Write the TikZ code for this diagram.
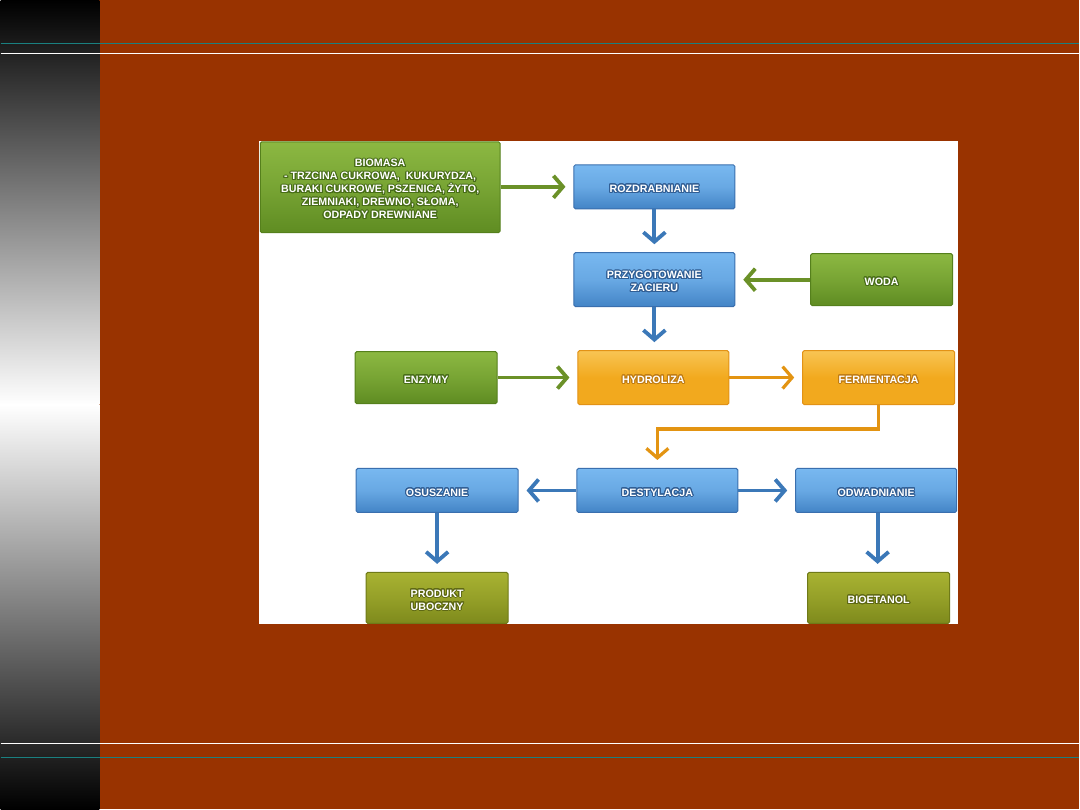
\documentclass[tikz,border=0pt]{standalone}
\usepackage{fontspec}
\setmainfont{Liberation Sans}[BoldFont={Liberation Sans Bold}]
\usepackage[copies]{contour}
\usepackage{tikz}
\usetikzlibrary{arrows.meta}
\contourlength{1pt}
\contournumber{24}
\definecolor{rdzawy}{HTML}{993300}
\definecolor{morski}{HTML}{1A8080}
\definecolor{niebTop}{HTML}{78B8F0}
\definecolor{niebDol}{HTML}{4384C6}
\definecolor{niebRam}{HTML}{3A6FAE}
\definecolor{niebStr}{HTML}{3B78B8}
\definecolor{zielTop}{HTML}{8CB842}
\definecolor{zielDol}{HTML}{5F8C22}
\definecolor{zielRam}{HTML}{55801C}
\definecolor{zielStr}{HTML}{6B9128}
\definecolor{pomTop}{HTML}{F8C454}
\definecolor{pomDol}{HTML}{F2A91E}
\definecolor{pomRam}{HTML}{E29216}
\definecolor{pomStr}{HTML}{E39412}
\definecolor{oliwTop}{HTML}{A8B232}
\definecolor{oliwDol}{HTML}{7E8A1C}
\definecolor{oliwRam}{HTML}{6F7A18}
\newcommand{\obr}[2]{\raisebox{-2.5pt}[\height][\depth]{\contour{#1!85!black}{\bfseries #2}}}

\begin{document}
\begin{tikzpicture}[x=1pt,y=-1pt,
    box/.style={rounded corners=1.5pt, line width=1pt, text=white, align=center,
      font=\fontsize{10.7}{13}\selectfont\bfseries, inner sep=0pt},
    niebieski/.style={box, draw=niebRam, top color=niebTop, bottom color=niebDol, middle color=niebTop!70!niebDol},
    zielony/.style={box, draw=zielRam, top color=zielTop, bottom color=zielDol, middle color=zielTop!55!zielDol},
    pomarancz/.style={box, draw=pomRam, top color=pomTop, bottom color=pomDol, middle color=pomDol},
    oliwka/.style={box, draw=oliwRam, top color=oliwTop, bottom color=oliwDol, middle color=oliwTop!55!oliwDol},
    strz/.style={line width=3.8pt, -{Straight Barb[length=9.5pt,width=22pt]}, shorten >=8pt},
  ]
  % tlo slajdu
  \fill[rdzawy] (0,0) rectangle (1080,810);
  \shade[top color=black, bottom color=white] (0,0) rectangle (99,405);
  \shade[top color=white, bottom color=black] (0,405) rectangle (99,810);
  \draw[morski, line width=1pt] (0,43.3) -- (1080,43.3);
  \draw[white, line width=1pt] (0,53.3) -- (1080,53.3);
  \draw[white, line width=1pt] (0,744.3) -- (1080,744.3);
  \draw[morski, line width=1.2pt] (0,758.3) -- (1080,758.3);
  \fill[white] (259,141) rectangle (958,625);

  % wiersz 1
  \node[zielony, minimum width=240pt, minimum height=91pt] (biomasa) at (380,187.5)
    {\obr{zielRam}{BIOMASA}\\\obr{zielRam}{- TRZCINA CUKROWA,\ \ KUKURYDZA,}\\
     \obr{zielRam}{BURAKI CUKROWE, PSZENICA,\ ŻYTO,}\\\obr{zielRam}{ZIEMNIAKI,\ DREWNO,\ SŁOMA,}\\
     \obr{zielRam}{ODPADY DREWNIANE}};
  \node[niebieski, minimum width=161pt, minimum height=44pt] (rozdr) at (654.5,187) {\obr{niebRam}{ROZDRABNIANIE}};
  % wiersz 2
  \node[niebieski, minimum width=161pt, minimum height=54pt] (zacier) at (654.5,280)
    {\obr{niebRam}{PRZYGOTOWANIE}\\\obr{niebRam}{ZACIERU}};
  \node[zielony, minimum width=142pt, minimum height=52pt] (woda) at (882,280) {\obr{zielRam}{WODA}};
  % wiersz 3
  \node[zielony, minimum width=142pt, minimum height=52pt] (enzymy) at (426,378) {\obr{zielRam}{ENZYMY}};
  \node[pomarancz, minimum width=151pt, minimum height=54pt] (hydro) at (653.5,378) {\obr{pomRam}{HYDROLIZA}};
  \node[pomarancz, minimum width=152pt, minimum height=54pt] (ferm) at (879,378) {\obr{pomRam}{FERMENTACJA}};
  % wiersz 4
  \node[niebieski, minimum width=162pt, minimum height=44pt] (osusz) at (437,491) {\obr{niebRam}{OSUSZANIE}};
  \node[niebieski, minimum width=161pt, minimum height=44pt] (destyl) at (657.5,491) {\obr{niebRam}{DESTYLACJA}};
  \node[niebieski, minimum width=161pt, minimum height=44pt] (odwadn) at (876.5,491) {\obr{niebRam}{ODWADNIANIE}};
  % wiersz 5
  \node[oliwka, minimum width=142pt, minimum height=51pt] (produkt) at (437,598.5)
    {\obr{oliwRam}{PRODUKT}\\\obr{oliwRam}{UBOCZNY}};
  \node[oliwka, minimum width=142pt, minimum height=51pt] (bioet) at (879,598.5) {\obr{oliwRam}{BIOETANOL}};

  % strzalki
  \draw[strz, zielStr] (biomasa.east |- rozdr.west) -- (rozdr.west);
  \draw[strz, niebStr] (rozdr.south) -- (zacier.north);
  \draw[strz, zielStr] (woda.west) -- (zacier.east);
  \draw[strz, niebStr] (zacier.south) -- (zacier.south |- hydro.north);
  \draw[strz, zielStr] (enzymy.east) -- (hydro.west);
  \draw[strz, pomStr, line width=3.2pt] (hydro.east) -- (ferm.west);
  \draw[strz, pomStr, line width=3.2pt] (ferm.south) -- ++(0,24) -| (destyl.north);
  \draw[strz, niebStr] (destyl.west) -- (osusz.east);
  \draw[strz, niebStr] (destyl.east) -- (odwadn.west);
  \draw[strz, niebStr] (osusz.south) -- (produkt.north);
  \draw[strz, niebStr] ([xshift=1.5pt]odwadn.south) -- ([xshift=1.5pt]odwadn.south |- bioet.north);
\end{tikzpicture}
\end{document}
